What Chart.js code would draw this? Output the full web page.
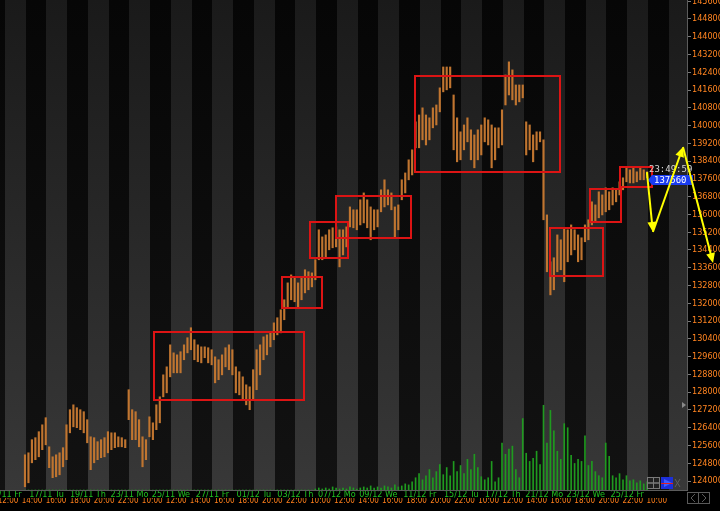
<!DOCTYPE html>
<html><head><meta charset="utf-8">
<script src="https://cdn.jsdelivr.net/npm/chart.js@4.4.1/dist/chart.umd.min.js"></script>
<style>html,body{margin:0;padding:0;background:#000;overflow:hidden}canvas{display:block}</style>
</head><body>
<canvas id="c" width="720" height="511"></canvas>
<script>
// ---------- data ----------
const dayLabels = ["13/11 Fr","17/11 Tu","19/11 Th","23/11 Mo","25/11 We","27/11 Fr","01/12 Tu","03/12 Th","07/12 Mo","09/12 We","11/12 Fr","15/12 Tu","17/12 Th","21/12 Mo","23/12 We","25/12 Fr"];
const timeLabels = ["12:00","14:00","16:00","18:00","20:00","22:00","10:00","12:00","14:00","16:00","18:00","20:00","22:00","10:00","12:00","14:00","16:00","18:00","20:00","22:00","10:00","12:00","14:00","16:00","18:00","20:00","22:00","10:00"];
const priceTicks = [124000,124800,125600,126400,127200,128000,128800,129600,130400,131200,132000,132800,133600,134400,135200,136000,136800,137600,138400,139200,140000,140800,141600,142400,143200,144000,144800,145600];
const barLows = [123740,123920,124820,124960,125090,125410,125630,124600,124150,124190,124280,124640,124960,126170,126440,126400,126310,126170,125720,124510,124820,124960,125050,125090,125270,125410,125500,125540,125540,125500,126760,125860,125860,125540,124640,124960,125990,125860,126310,126620,127790,127970,128690,128870,128870,128870,129460,129770,129910,129460,129370,129320,129550,129320,129230,128420,128560,128780,129140,129010,128780,127970,127880,127660,127430,127210,127660,128110,128780,129460,129680,130040,130360,130580,130670,131260,131840,132160,132070,131840,132160,132470,132610,132740,133060,133960,133960,134050,134410,134500,134540,133640,134180,134540,135440,135400,135310,135530,135620,135400,134860,135310,135440,136120,136340,136430,136210,134990,135310,136660,136970,137560,137780,139000,139000,139360,139130,139360,139900,140030,140620,141520,141610,141700,138910,138370,138460,138910,139270,138460,138100,138460,138680,139270,139130,138100,138460,139000,139130,140930,141380,141160,140930,141070,141250,138680,138910,138370,138910,139270,135760,133420,132380,132610,133420,133510,132970,133870,134180,134410,133870,133960,134770,134860,135530,135670,135850,135980,136120,136210,136430,136570,136880,137110,137470,137420,137420,137470,137560,137560,137650];
const barHighs = [125180,125270,125860,125950,126220,126530,126850,125540,125090,125180,125270,125500,126530,127210,127430,127300,127210,127120,126760,125990,125950,125770,125860,125950,126220,126170,126170,125990,125950,125860,128110,127210,127120,126760,125990,125860,126890,126620,127430,127790,128780,129140,130130,129770,129680,129820,130130,130450,130900,130360,130130,130040,130040,130000,129910,129590,129460,129680,130000,130130,129910,129140,128920,128690,128330,128240,129010,129910,130130,130490,130580,130670,131120,131350,131710,132160,132920,133280,133150,132920,133150,133510,133420,133370,133960,135310,134990,135080,135310,135400,135440,135310,135310,135440,136340,136210,136210,136660,136970,136660,136340,136210,136210,137110,137560,137110,136970,136340,136430,137560,137870,138460,138910,140170,140480,140800,140480,140350,140800,140930,141700,142640,142640,142640,141380,140350,139720,140030,140350,139810,139580,139810,140030,140350,140260,140030,139900,139900,140710,142280,142870,142510,141830,141830,141830,140170,140030,139580,139720,139720,139360,135980,133870,134050,135080,134860,135400,135310,135530,135310,135080,134950,135530,135760,136570,136430,137020,136880,137200,137020,137200,137110,137470,137650,138100,138010,138100,137920,138100,138010,137920];
const volumes = [0,0,0,0,0,0,0,0,0,0,0,0,0,0,0,0,0,0,0,0,0,0,0,0,0,0,0,0,0,0,0,0,0,0,0,0,0,0,0,0,0,0,0,0,0,0,0,0,0,0,0,0,0,0,0,0,0,0,0,0,0,0,0,0,0,0,0,0,0,0,0,0,0,0,0,0,0,0,0,0,0,0,0,0,
  1,2,1,2,1,3,2,1,2,1,3,2,1,2,3,2,4,2,3,2,4,3,2,5,3,4,6,
  5,8,12,16,10,14,20,12,18,25,15,22,14,28,18,24,16,30,20,35,22,13,10,12,28,8,12,46,35,40,43,20,12,70,36,28,31,38,25,83,46,78,58,38,30,65,61,34,26,30,28,53,24,28,18,14,12,46,33,14,12,16,10,14,9,10,7,9,6,8];
const firstBarDay = 0.964;     // trading-day position of the first bar
const barsPerDay = 6;
const lastPrice = 137560;
const timerText = "23:49:59";
const markerPrice = 127420;
// boxes drawn on the chart (trading-day / price coordinates)
const boxDayFrom  = [7.136, 13.308, 14.658, 15.911, 19.720, 26.229, 28.158, 29.605];
const boxDayTo    = [14.417, 15.284, 16.538, 19.576, 26.760, 28.833, 29.701, 31.196];
const boxPriceTop = [130750, 133230, 135710, 136880, 142280, 135440, 137190, 138180];
const boxPriceBot = [127650, 131790, 134040, 134940, 137910, 133230, 135660, 137240];
// yellow scenario arrows
const arrowDays   = [30.95, 31.24, 32.69, 34.14];
const arrowPrices = [137910, 135210, 139040, 133810];

// ---------- layout constants ----------
const DAY_PX = 20.74;
const xMin = -5 / DAY_PX;
const xMax = 682 / DAY_PX;
const timeStart = 3 / DAY_PX, timeStep = 24.03 / DAY_PX;
const FONT = "'Liberation Sans Narrow','Arial Narrow','DejaVu Sans Condensed',sans-serif";

const bgPlugin = {
  id: 'bg',
  beforeDraw(chart) {
    const {ctx, chartArea: a, scales: {x}} = chart;
    ctx.save();
    ctx.fillStyle = '#000';
    ctx.fillRect(0, 0, chart.width, chart.height);
    const gG = ctx.createLinearGradient(0, a.top, 0, a.bottom);
    gG.addColorStop(0, '#1a1a1a'); gG.addColorStop(1, '#383838');
    const gD = ctx.createLinearGradient(0, a.top, 0, a.bottom);
    gD.addColorStop(0, '#060606'); gD.addColorStop(1, '#121212');
    ctx.beginPath(); ctx.rect(a.left, a.top, a.width, a.height); ctx.clip();
    for (let d = Math.floor(x.min) - 1; d <= Math.ceil(x.max) + 1; d++) {
      const x0 = Math.round(x.getPixelForValue(d)), x1 = Math.round(x.getPixelForValue(d + 1));
      ctx.fillStyle = (((d % 2) + 2) % 2 === 0) ? gG : gD;
      ctx.fillRect(x0, a.top, x1 - x0, a.height);
    }
    ctx.restore();
  }
};

function arrowHead(ctx, x0, y0, x1, y1, len, wid) {
  const ang = Math.atan2(y1 - y0, x1 - x0);
  ctx.beginPath();
  ctx.moveTo(x1, y1);
  ctx.lineTo(x1 - len * Math.cos(ang) + wid * Math.sin(ang), y1 - len * Math.sin(ang) - wid * Math.cos(ang));
  ctx.lineTo(x1 - len * Math.cos(ang) - wid * Math.sin(ang), y1 - len * Math.sin(ang) + wid * Math.cos(ang));
  ctx.closePath(); ctx.fill();
}

const annoPlugin = {
  id: 'anno',
  afterDatasetsDraw(chart) {
    const {ctx, chartArea: a, scales: {x, y}} = chart;
    ctx.save();
    ctx.beginPath(); ctx.rect(a.left, a.top, a.width, a.height); ctx.clip();
    ctx.strokeStyle = '#dc1414'; ctx.lineWidth = 1;
    for (let i = 0; i < boxDayFrom.length; i++) {
      const l = Math.round(x.getPixelForValue(boxDayFrom[i])) + 0.5;
      const r = Math.round(x.getPixelForValue(boxDayTo[i])) + 0.5;
      const t = Math.round(y.getPixelForValue(boxPriceTop[i])) + 0.5;
      const b = Math.round(y.getPixelForValue(boxPriceBot[i])) + 0.5;
      ctx.strokeRect(l, t, r - l, b - t);
      ctx.strokeRect(l + 1, t + 1, r - l - 2, b - t - 2);
    }
    ctx.restore();
  },
  afterDraw(chart) {
    const {ctx, chartArea: a, scales: {x, y}} = chart;
    ctx.save();
    // axis line under the plot
    ctx.strokeStyle = '#5c5c5c'; ctx.lineWidth = 1;
    ctx.beginPath(); ctx.moveTo(a.left, a.bottom + 0.5); ctx.lineTo(a.right, a.bottom + 0.5); ctx.stroke();
    // price label
    const py = Math.round(y.getPixelForValue(lastPrice));
    const lx = Math.round(x.getPixelForValue(firstBarDay + (barLows.length - 1) / barsPerDay)) + 2;
    ctx.fillStyle = '#1a3cf0';
    ctx.fillRect(lx + 3, py - 5, 693 - lx - 3, 10);
    ctx.beginPath(); ctx.moveTo(lx - 1, py); ctx.lineTo(lx + 3, py - 5); ctx.lineTo(lx + 3, py + 5); ctx.fill();
    ctx.fillStyle = '#ffffff';
    ctx.font = "9px 'DejaVu Sans Mono', monospace";
    ctx.textBaseline = 'middle'; ctx.textAlign = 'left';
    ctx.fillText(String(lastPrice), lx + 5, py + 0.5);
    ctx.fillStyle = '#d6d6d6';
    ctx.fillText(timerText, lx, py - 10);
    // right marker
    const my = Math.round(y.getPixelForValue(markerPrice));
    ctx.fillStyle = '#8a8a8a';
    ctx.beginPath(); ctx.moveTo(a.right - 5, my - 3); ctx.lineTo(a.right - 1, my); ctx.lineTo(a.right - 5, my + 3); ctx.fill();
    // yellow arrows
    ctx.strokeStyle = '#ffff00'; ctx.fillStyle = '#ffff00'; ctx.lineWidth = 2;
    const pts = arrowDays.map((d, i) => [x.getPixelForValue(d), y.getPixelForValue(arrowPrices[i])]);
    for (let i = 0; i < pts.length - 1; i++) {
      const [x0, y0] = pts[i], [x1, y1] = pts[i + 1];
      const ang = Math.atan2(y1 - y0, x1 - x0);
      ctx.beginPath(); ctx.moveTo(x0, y0); ctx.lineTo(x1 - 7 * Math.cos(ang), y1 - 7 * Math.sin(ang)); ctx.stroke();
      arrowHead(ctx, x0, y0, x1, y1, 10, 4.5);
    }
    // bottom-right widgets
    const bx = a.right - 40, by = a.bottom - 13;
    ctx.lineWidth = 1; ctx.strokeStyle = '#7a7a7a';
    ctx.fillStyle = '#202020'; ctx.fillRect(bx, by, 13, 12);
    ctx.strokeRect(bx + 0.5, by + 0.5, 6, 5.5); ctx.strokeRect(bx + 6.5, by + 0.5, 6, 5.5);
    ctx.strokeRect(bx + 0.5, by + 6, 6, 5.5); ctx.strokeRect(bx + 6.5, by + 6, 6, 5.5);
    ctx.fillStyle = '#1c2fd8'; ctx.fillRect(bx + 14, by, 12, 12);
    ctx.fillStyle = '#3f5cff';
    ctx.beginPath(); ctx.moveTo(bx + 17, by + 2); ctx.lineTo(bx + 25, by + 6); ctx.lineTo(bx + 17, by + 10); ctx.fill();
    ctx.strokeStyle = '#e02020'; ctx.beginPath(); ctx.moveTo(bx + 14, by + 6.5); ctx.lineTo(bx + 26, by + 6.5); ctx.stroke();
    ctx.strokeStyle = '#606060';
    ctx.beginPath(); ctx.moveTo(bx + 28, by + 2); ctx.lineTo(bx + 33, by + 10); ctx.moveTo(bx + 33, by + 2); ctx.lineTo(bx + 28, by + 10); ctx.stroke();
    // scroll buttons under the price axis
    ctx.strokeStyle = '#5a5a5a';
    ctx.strokeRect(a.right + 0.5, a.bottom + 2.5, 11, 11); ctx.strokeRect(a.right + 11.5, a.bottom + 2.5, 11, 11);
    ctx.beginPath();
    ctx.moveTo(a.right + 8, a.bottom + 4); ctx.lineTo(a.right + 4, a.bottom + 8); ctx.lineTo(a.right + 8, a.bottom + 12);
    ctx.moveTo(a.right + 15, a.bottom + 4); ctx.lineTo(a.right + 19, a.bottom + 8); ctx.lineTo(a.right + 15, a.bottom + 12);
    ctx.stroke();
    ctx.restore();
  }
};

const priceData = barLows.map((lo, k) => ({x: firstBarDay + k / barsPerDay, y: [lo, barHighs[k]]}));
const volData = volumes.map((v, k) => ({x: firstBarDay + k / barsPerDay, y: v}));

const labelAxis = (labels, color, size, height, pad, valueOf) => ({
  type: 'linear', position: 'bottom', min: xMin, max: xMax, offset: false,
  grid: {display: false, drawTicks: false, tickLength: 0}, border: {display: false},
  ticks: {autoSkip: false, maxRotation: 0, minRotation: 0, padding: pad, color,
          font: {family: FONT, size, lineHeight: 1}, callback: (v, i) => labels[i]},
  afterBuildTicks: s => { s.ticks = labels.map((_, i) => ({value: valueOf(i)})); },
  afterFit: s => { s.height = height; s.paddingLeft = 0; s.paddingRight = 0; }
});

new Chart(document.getElementById('c'), {
  type: 'bar',
  data: {
    datasets: [
      {label: 'Volume', data: volData, xAxisID: 'x', yAxisID: 'yv', backgroundColor: '#1f9a1f', barThickness: 1, grouped: false, order: 2},
      {label: 'Price', data: priceData, xAxisID: 'x', yAxisID: 'y', backgroundColor: '#c07530', barThickness: 1.5, grouped: false, order: 1}
    ]
  },
  options: {
    responsive: false, animation: false, devicePixelRatio: 1, events: [],
    layout: {padding: 0},
    plugins: {legend: {display: false}, tooltip: {enabled: false}},
    scales: {
      x: {type: 'linear', display: false, min: xMin, max: xMax, offset: false, grid: {offset: false}},
      xd: labelAxis(dayLabels, '#20c020', 9, 8, 0, i => i * 2),
      xt: labelAxis(timeLabels, '#ff7f1a', 8, 13, -1, i => timeStart + i * timeStep),
      y: {
        type: 'linear', position: 'right', min: 123595, max: 145655, beginAtZero: false,
        grid: {drawOnChartArea: false, color: '#7a7a7a', tickLength: 4},
        border: {display: true, color: '#5c5c5c'},
        ticks: {padding: 1, color: '#ff8420', font: {family: FONT, size: 9}, callback: v => String(v)},
        afterBuildTicks: s => { s.ticks = priceTicks.map(v => ({value: v})); },
        afterFit: s => { s.width = 33; s.paddingTop = 0; s.paddingBottom = 0; }
      },
      yv: {type: 'linear', display: false, min: 0, max: 480}
    }
  },
  plugins: [bgPlugin, annoPlugin]
});
</script>
</body></html>
